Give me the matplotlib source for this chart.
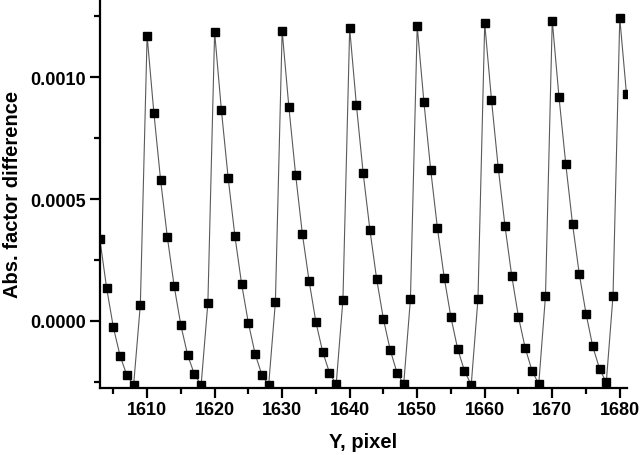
import matplotlib
matplotlib.use("Agg")
import matplotlib.pyplot as plt
from matplotlib.ticker import MultipleLocator, FormatStrFormatter

# pixel positions (Y, pixel)
y_pixel = list(range(1603, 1682))

# absolute factor difference
abs_diff = [
    0.000336, 0.000136, -0.000026, -0.000144, -0.000223, -0.000264, 0.000067,
    0.001171, 0.000855, 0.000578, 0.000343, 0.000144, -0.000018, -0.000140, -0.000219, -0.000264, 0.000074,
    0.001185, 0.000866, 0.000588, 0.000349, 0.000151, -0.000009, -0.000136, -0.000222, -0.000264, 0.000078,
    0.001191, 0.000877, 0.000599, 0.000356, 0.000162, -0.000005, -0.000127, -0.000212, -0.000261, 0.000086,
    0.001201, 0.000885, 0.000606, 0.000373, 0.000171, 0.000007, -0.000119, -0.000212, -0.000260, 0.000090,
    0.001210, 0.000897, 0.000620, 0.000380, 0.000178, 0.000014, -0.000116, -0.000205, -0.000263, 0.000090,
    0.001222, 0.000908, 0.000629, 0.000390, 0.000185, 0.000016, -0.000112, -0.000204, -0.000260, 0.000103,
    0.001233, 0.000919, 0.000645, 0.000399, 0.000193, 0.000030, -0.000105, -0.000196, -0.000253, 0.000103,
    0.001244, 0.000930,
]

plt.rcParams['font.family'] = ['Liberation Sans', 'DejaVu Sans']
plt.rcParams['font.weight'] = 'bold'

fig = plt.figure(figsize=(6.4, 4.56), dpi=100)
ax = fig.add_axes([0.156, 0.148, 0.824, 0.852])

ax.plot(y_pixel, abs_diff, color='#5a5a5a', linewidth=0.8,
        marker='s', markersize=6, markerfacecolor='black', markeredgecolor='black')

ax.set_xlim(1603.0, 1681.1)
ax.set_ylim(-0.0002736, 0.0013217)

ax.xaxis.set_major_locator(MultipleLocator(10))
ax.xaxis.set_minor_locator(MultipleLocator(5))
ax.yaxis.set_major_locator(MultipleLocator(0.0005))
ax.yaxis.set_minor_locator(MultipleLocator(0.00025))
ax.yaxis.set_major_formatter(FormatStrFormatter('%.4f'))

for s in ['top', 'right']:
    ax.spines[s].set_visible(False)
for s in ['left', 'bottom']:
    ax.spines[s].set_linewidth(1.6)

ax.tick_params(which='major', direction='out', length=7, width=1.6, labelsize=13, pad=3)
ax.tick_params(which='minor', direction='out', length=4, width=1.6)

ax.set_xlabel('Y, pixel', fontsize=14.5, fontweight='bold', labelpad=10)
ax.set_ylabel('Abs. factor difference', fontsize=14.5, fontweight='bold', labelpad=6)

fig.savefig('out.png', dpi=100)
